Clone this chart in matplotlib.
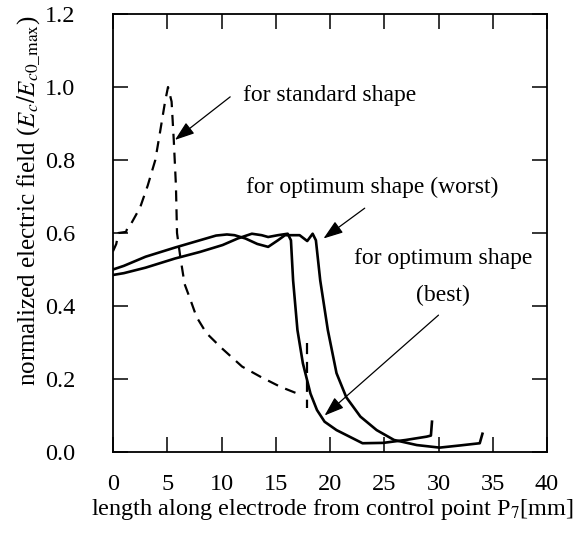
import matplotlib
matplotlib.use("Agg")
import matplotlib.pyplot as plt

plt.rcParams["font.family"] = ["Liberation Serif", "DejaVu Serif"]
plt.rcParams["mathtext.fontset"] = "stix"

# standard shape (dashed)
std_x = [0, 0.3, 0.5, 1.2, 1.4, 1.7, 2.5, 3.2, 3.9, 4.3, 4.8, 5.07, 5.4, 5.6, 5.8, 5.9,
         6.2, 6.6, 7.1, 7.7, 8.6, 10.0, 11.9, 13.6, 15.4, 17.0, 17.5]
std_y = [0.55, 0.57, 0.60, 0.603, 0.62, 0.627, 0.67, 0.73, 0.80, 0.87, 0.96, 1.0, 0.96, 0.855, 0.73, 0.60,
         0.535, 0.46, 0.42, 0.37, 0.326, 0.285, 0.234, 0.206, 0.179, 0.16, 0.156]
std_tail_x = [17.85, 17.85]
std_tail_y = [0.30, 0.12]

# optimum shape (worst)
worst_x = [0, 1, 3, 5.7, 8, 9.5, 10.5, 11.2, 12.2, 13.3, 14.3, 15.2, 15.85, 17.2, 17.9, 18.4, 18.7,
           19.1, 19.8, 20.6, 21.5, 22.8, 24.3, 25.9, 28.0, 30.1, 32.0, 33.8, 34.05]
worst_y = [0.50, 0.51, 0.535, 0.56, 0.58, 0.593, 0.596, 0.594, 0.585, 0.57, 0.562, 0.58, 0.594, 0.594, 0.578, 0.598, 0.58,
           0.47, 0.334, 0.216, 0.15, 0.097, 0.06, 0.033, 0.019, 0.012, 0.018, 0.024, 0.05]

# optimum shape (best)
best_x = [0, 1, 3, 5.7, 8, 10.1, 11.5, 12.8, 13.7, 14.3, 15.2, 16.1, 16.4, 16.6, 17.0, 17.5,
          18.2, 18.8, 19.5, 20.6, 21.8, 23.0, 24.9, 27.0, 28.9, 29.3, 29.4]
best_y = [0.485, 0.49, 0.505, 0.53, 0.548, 0.567, 0.585, 0.598, 0.594, 0.589, 0.594, 0.598, 0.58, 0.47, 0.334, 0.243,
          0.16, 0.115, 0.083, 0.06, 0.042, 0.024, 0.025, 0.033, 0.042, 0.045, 0.083]

x_ticks = [0, 5, 10, 15, 20, 25, 30, 35, 40]
y_ticks = [0.0, 0.2, 0.4, 0.6, 0.8, 1.0, 1.2]

fig = plt.figure(figsize=(5.8, 5.39), dpi=100)
ax = fig.add_axes([113/580, 1-452/539, 434/580, 438/539])

ax.plot(std_x, std_y, color="black", lw=1.6, dashes=(5, 3.5))
ax.plot(std_tail_x, std_tail_y, color="black", lw=1.6, dashes=(5, 3.5))
ax.plot(worst_x, worst_y, color="black", lw=1.9)
ax.plot(best_x, best_y, color="black", lw=1.9)

ax.set_xlim(0, 40)
ax.set_ylim(0, 1.2)
ax.set_xticks(x_ticks)
ax.set_yticks(y_ticks)
ax.set_yticklabels([f"{v:.1f}" for v in y_ticks])
ax.tick_params(direction="in", length=11, width=1.1, top=True, right=True, labelsize=17.5)
ax.tick_params(axis="x", pad=16)
ax.tick_params(axis="y", pad=27)
for s in ax.spines.values():
    s.set_linewidth(1.3)

fig.text(332/580, 1-510/539, "length along electrode from control point P$_7$[mm]",
         ha="center", va="center", fontsize=17.5)
fig.text(29/580, 1-200/539, r"normalized electric field ($E_c/E_{c\mathrm{0\_max}}$)",
         ha="center", va="center", rotation=90, fontsize=18)

arrow = dict(arrowstyle="-|>,head_length=0.8,head_width=0.28", color="black", lw=0.9,
             mutation_scale=15, shrinkA=0, shrinkB=0)
ax.text(12.0, 0.978, "for standard shape", fontsize=17, va="center", ha="left")
ax.annotate("", xy=(5.71, 0.855), xytext=(10.8, 0.973), arrowprops=arrow)

ax.text(12.3, 0.726, "for optimum shape (worst)", fontsize=17, va="center", ha="left")
ax.annotate("", xy=(19.4, 0.585), xytext=(23.2, 0.668), arrowprops=arrow)

ax.text(30.4, 0.53, "for optimum shape", fontsize=17, va="center", ha="center", clip_on=False)
ax.text(30.4, 0.43, "(best)", fontsize=17, va="center", ha="center")
ax.annotate("", xy=(19.5, 0.10), xytext=(30.0, 0.375), arrowprops=arrow)

fig.savefig("out.png", dpi=100)
